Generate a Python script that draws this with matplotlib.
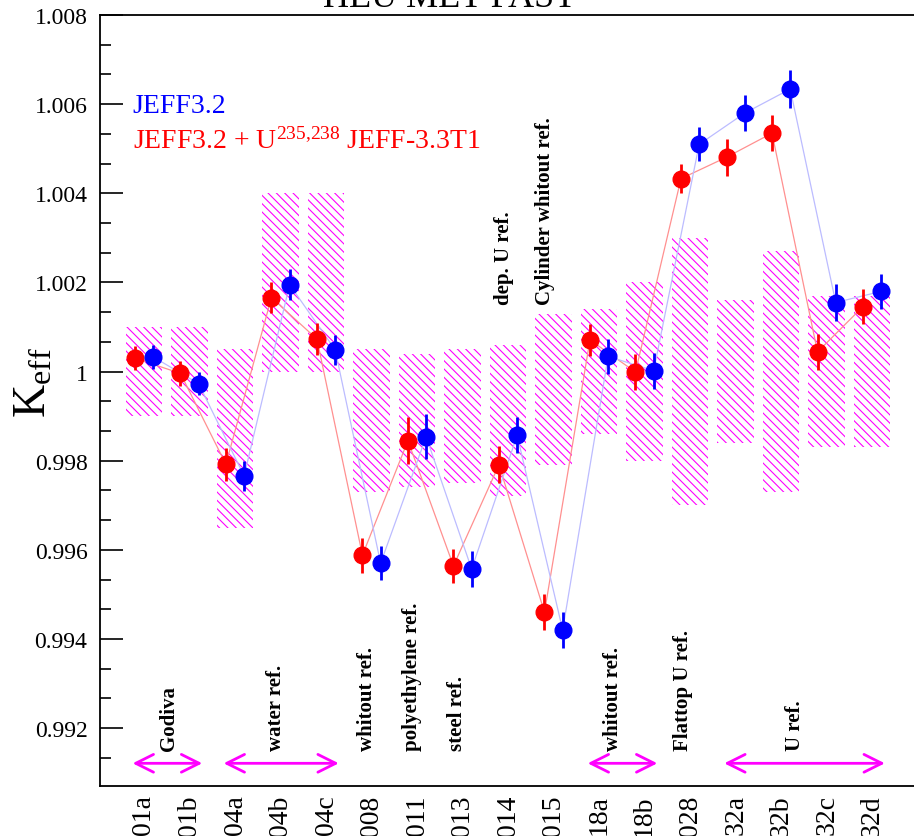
import matplotlib
matplotlib.use('Agg')
import matplotlib.pyplot as plt
import numpy as np
from matplotlib.ticker import MultipleLocator, AutoMinorLocator, FuncFormatter

plt.rcParams['font.family'] = ['Liberation Serif', 'DejaVu Serif']
plt.rcParams['mathtext.fontset'] = 'custom'
plt.rcParams['mathtext.rm'] = 'Liberation Serif'
plt.rcParams['mathtext.it'] = 'Liberation Serif:italic'
plt.rcParams['hatch.linewidth'] = 0.8

labels = ['01a', '01b', '04a', '04b', '04c', '008', '011', '013', '014', '015',
          '18a', '18b', '028', '32a', '32b', '32c', '32d']

# JEFF3.2 (blue)
jeff32 = [1.00033, 0.99973, 0.99766, 1.00195, 1.00049, 0.99570, 0.99854, 0.99557, 0.99857,
          0.99420, 1.00034, 1.00002, 1.00510, 1.00580, 1.00634, 1.00155, 1.00180]
jeff32Err = [0.00027, 0.00025, 0.00034, 0.00035, 0.00034, 0.00038, 0.00050, 0.00040, 0.00040,
             0.00040, 0.00040, 0.00040, 0.00038, 0.00041, 0.00042, 0.00041, 0.00040]

# JEFF3.2 + U235,238 JEFF-3.3T1 (red)
jeff33u = [1.00030, 0.99996, 0.99792, 1.00166, 1.00073, 0.99588, 0.99845, 0.99564, 0.99791,
           0.99460, 1.00071, 0.99999, 1.00433, 1.00481, 1.00535, 1.00044, 1.00146]
jeff33uErr = [0.00027, 0.00028, 0.00037, 0.00035, 0.00036, 0.00039, 0.00052, 0.00039, 0.00042,
              0.00040, 0.00036, 0.00040, 0.00033, 0.00041, 0.00040, 0.00041, 0.00040]

# benchmark uncertainty bands
benchLow = [0.9990, 0.9990, 0.9965, 1.0000, 1.0000, 0.9973, 0.9974, 0.9975, 0.9972,
            0.9979, 0.9986, 0.9980, 0.9970, 0.9984, 0.9973, 0.9983, 0.9983]
benchHigh = [1.0010, 1.0010, 1.0005, 1.0040, 1.0040, 1.0005, 1.0004, 1.0005, 1.0006,
             1.0013, 1.0014, 1.0020, 1.0030, 1.0016, 1.0027, 1.0017, 1.0017]

# groups with arrows: (text, first index, last index, text x)
arrowGroups = [('Godiva', 0, 1, 0.56), ('water ref.', 2, 4, 2.9),
               ('whitout ref.', 10, 11, 10.3), ('U ref.', 13, 16, 14.3)]
# single notes: (text, x, low/high)
notes = [('whitout ref.', 4.9, 'low'), ('polyethylene ref.', 5.88, 'low'),
         ('steel ref.', 6.87, 'low'), ('dep. U ref.', 7.9, 'high'),
         ('Cylinder whitout ref.', 8.82, 'high'), ('Flattop U ref.', 11.85, 'low')]

x = np.arange(len(labels))
low = np.array(benchLow)
high = np.array(benchHigh)

fig = plt.figure(figsize=(9.14, 8.37), dpi=100)
ax = fig.add_axes([0.1094, 0.0597, 0.8906, 0.9211])

ax.bar(x, high - low, bottom=low, width=0.8, fill=False, hatch='\\\\\\\\',
       edgecolor='#ff00ff', linewidth=0, zorder=1)

ax.plot(x - 0.2, jeff33u, color='#ff9090', lw=0.9, zorder=2)
ax.plot(x + 0.2, jeff32, color='#bcbcff', lw=0.9, zorder=2)
ax.errorbar(x - 0.2, jeff33u, yerr=jeff33uErr, fmt='o', color='#ff0000', markersize=12,
            elinewidth=2, capsize=0, zorder=3)
ax.errorbar(x + 0.2, jeff32, yerr=jeff32Err, fmt='o', color='#0000ff', markersize=12,
            elinewidth=2, capsize=0, zorder=4)

for text, i0, i1, tx in arrowGroups:
    ax.annotate('', xy=(i0 - 0.25, 0.99121), xytext=(i1 + 0.28, 0.99121),
                arrowprops=dict(arrowstyle='<->', color='#ff00ff', lw=2, mutation_scale=32,
                                shrinkA=0, shrinkB=0))
    ax.text(tx, 0.99151, text, rotation=90, ha='center', va='bottom',
            fontsize=15, fontweight='bold')
for text, tx, where in notes:
    ty = 0.99151 if where == 'low' else 1.00151
    ax.text(tx, ty, text, rotation=90, ha='center', va='bottom',
            fontsize=15, fontweight='bold')

ax.text(-0.25, 1.00597, 'JEFF3.2', color='#0000ff', fontsize=20, va='center')
ax.text(-0.25, 1.00520, r'JEFF3.2 + U$^{\mathrm{235{,}238}}$ JEFF-3.3T1', color='#ff0000',
        fontsize=20, va='center')

ax.set_xlim(-0.967, 16.92)
ax.set_ylim(0.9907, 1.0080)
ax.yaxis.set_major_locator(MultipleLocator(0.002))
ax.yaxis.set_minor_locator(AutoMinorLocator(3))
ax.yaxis.set_major_formatter(FuncFormatter(lambda v, p: '%g' % round(v, 4)))
ax.tick_params(axis='y', which='major', direction='in', length=16.5, width=1.2,
               labelsize=17, pad=9)
ax.tick_params(axis='y', which='minor', direction='in', length=8, width=1.2)
ax.set_xticks(x)
ax.set_xticklabels(labels, rotation=90, fontsize=20)
ax.tick_params(axis='x', length=0, pad=6)
ax.spines['right'].set_visible(False)
for s in ['left', 'bottom', 'top']:
    ax.spines[s].set_linewidth(1.3)

fig.text(0.038, 1 - 382 / 837, r'K$_{\mathrm{eff}}$', rotation=90, fontsize=33,
         ha='center', va='center')
fig.text(0.492, 1 - 7 / 837, 'HEU MET FAST', fontsize=26, ha='center', va='baseline')

fig.savefig('out.png', dpi=100)
